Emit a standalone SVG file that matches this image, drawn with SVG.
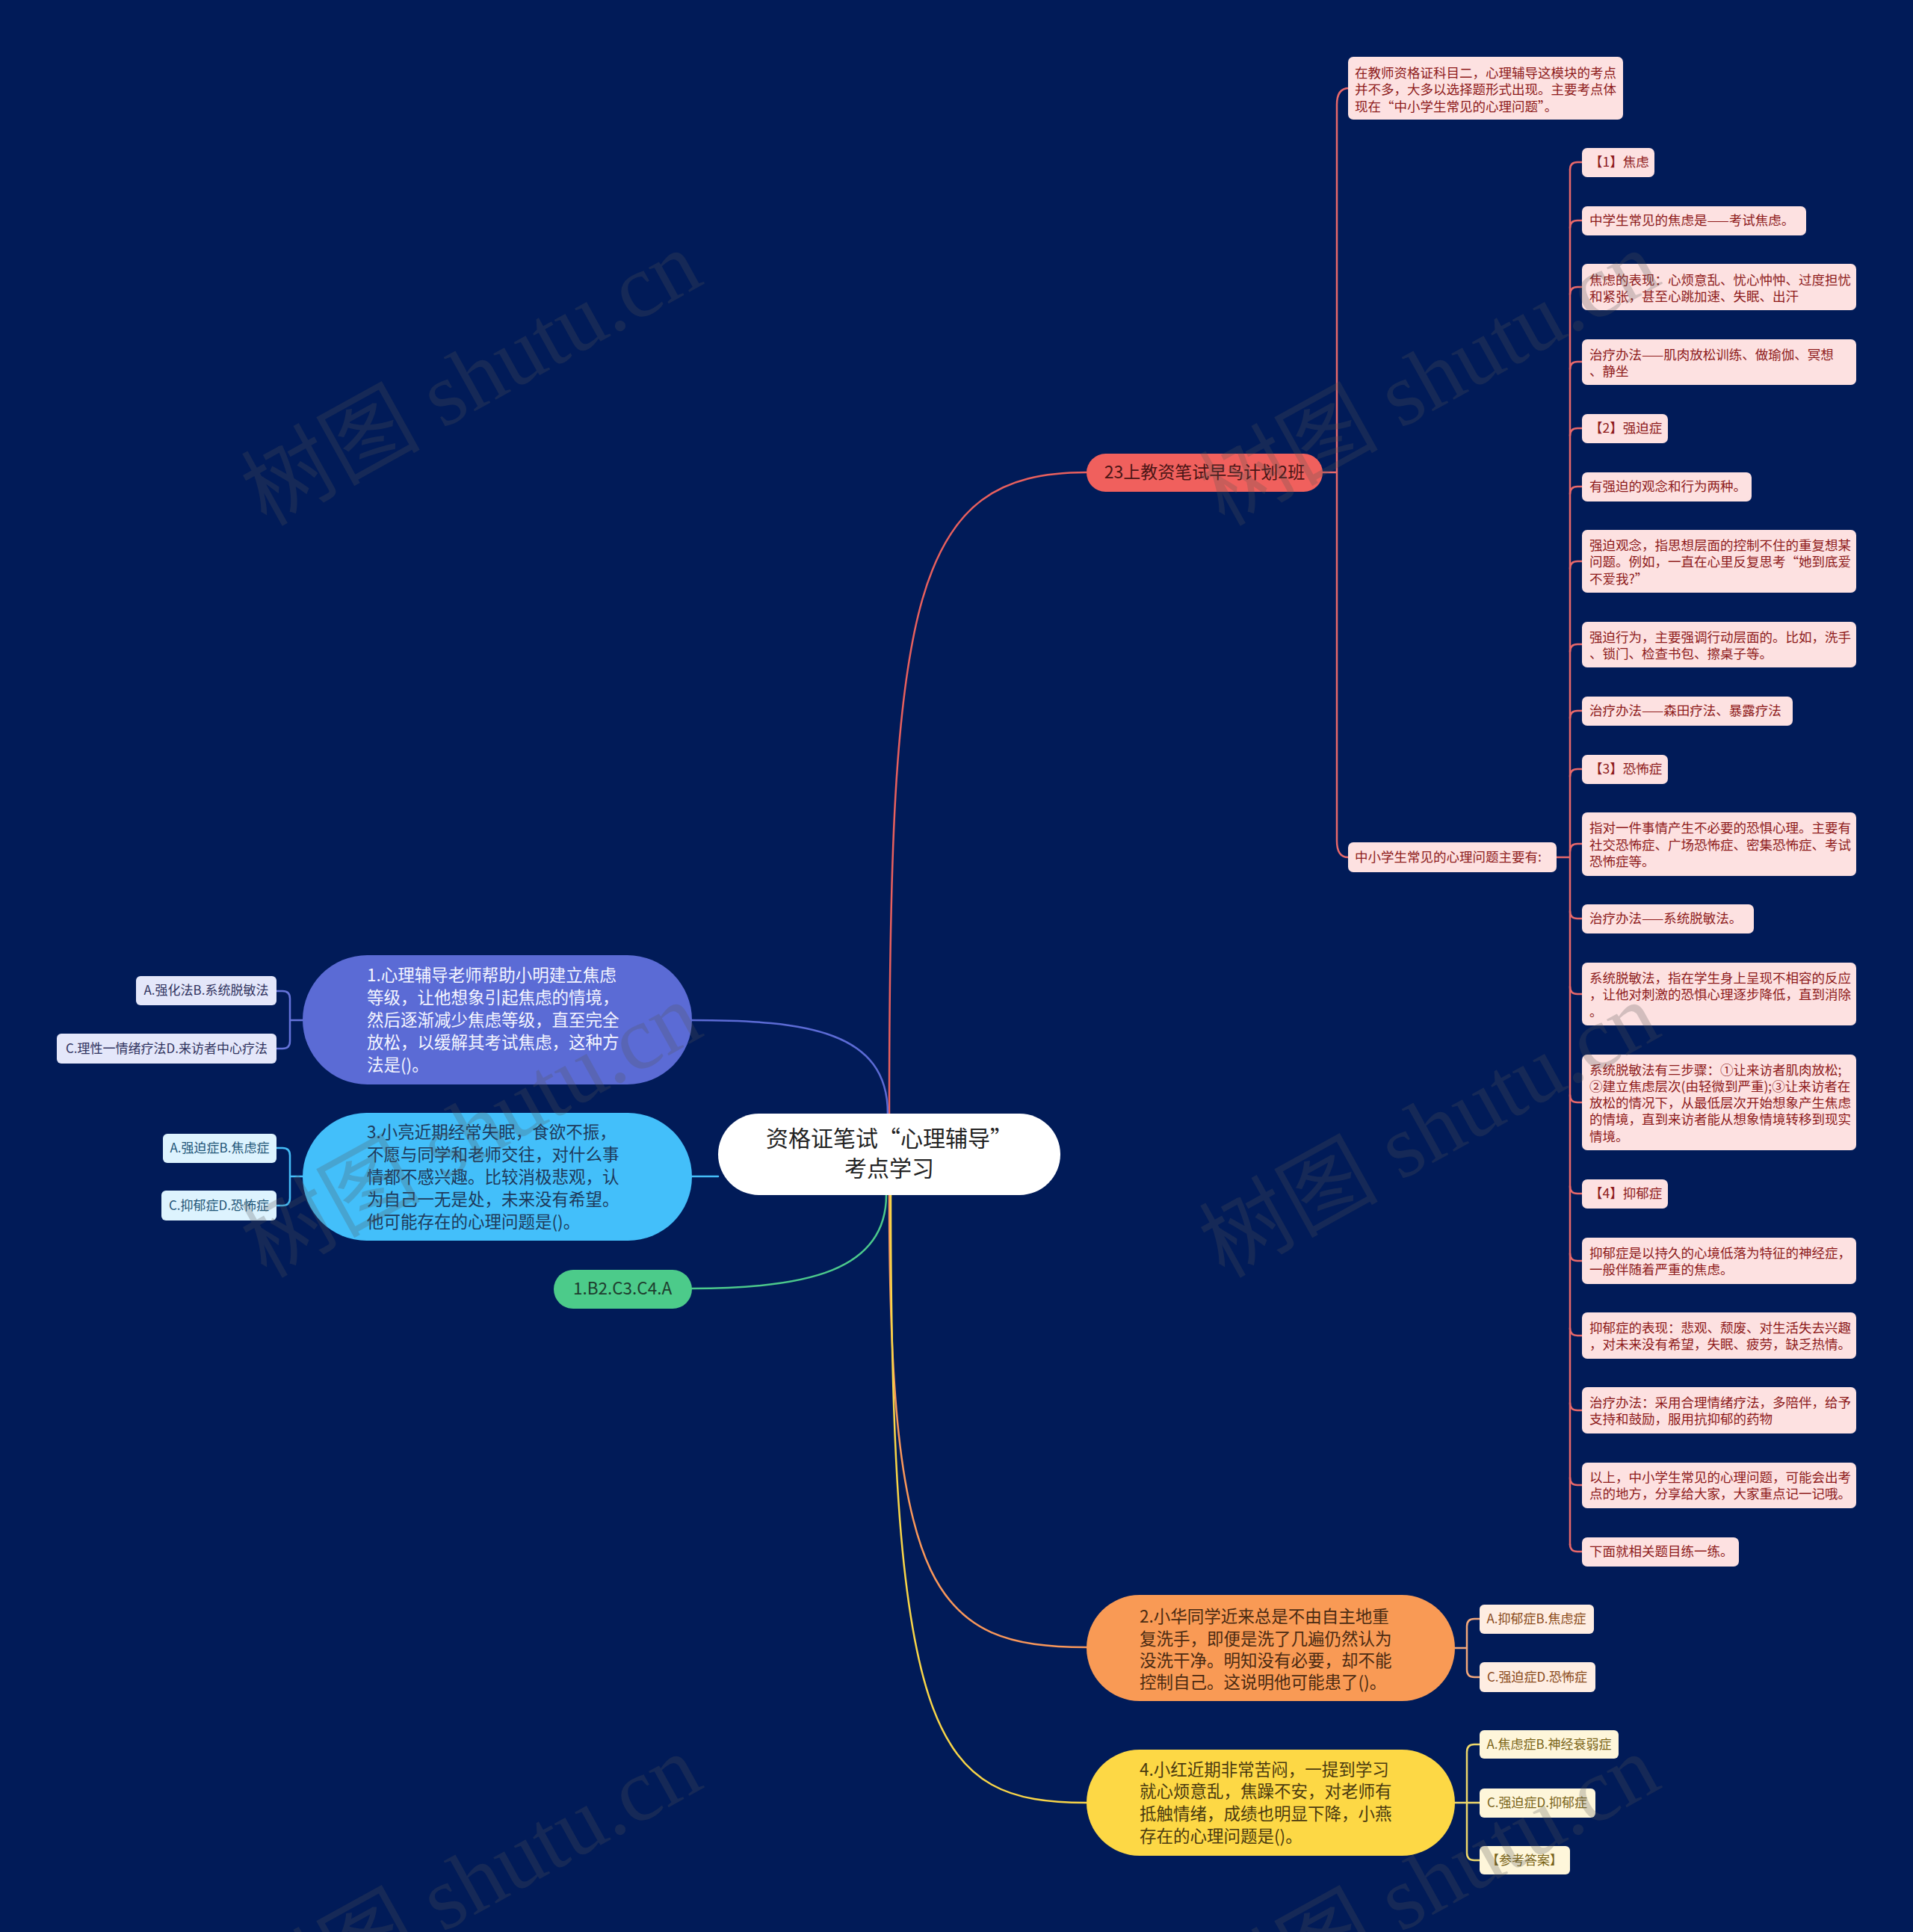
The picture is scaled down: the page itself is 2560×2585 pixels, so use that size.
<svg xmlns="http://www.w3.org/2000/svg" width="2560" height="2585" viewBox="0 0 2560 2585">
<style>
text{font-family:"Noto Sans CJK SC","Liberation Sans",sans-serif;}
.conn{fill:none;stroke-width:2.5;stroke-linecap:round;}
.pk{fill:#FDE1E1;}
.pkt{fill:#8E1B1B;font-size:17.5px;}
.wm{font-family:"Liberation Serif","Noto Sans CJK SC",serif;font-size:120px;fill:#555555;opacity:0.25;}
.big{font-size:22.5px;}
.opt{font-size:17px;}
</style>
<rect x="0" y="0" width="2560" height="2585" fill="#011B58"/>

<g id="connectors">
  <path class="conn" stroke="#E8605E" d="M1190,1490 C1190,800 1220,632 1454,632"/>
  <path class="conn" stroke="#5C6BD5" d="M1188,1490 C1188,1380 1080,1365 926,1365"/>
  <path class="conn" stroke="#45BDF7" d="M961,1574 H926"/>
  <path class="conn" stroke="#4CC98C" d="M1186,1599 C1186,1700 1080,1724 926,1724"/>
  <path class="conn" stroke="#F9975A" d="M1190,1599 C1190,2130 1250,2204 1454,2204"/>
  <path class="conn" stroke="#F8D548" d="M1192,1599 C1192,2330 1250,2412 1454,2412"/>
  <path class="conn" stroke="#E8686A" d="M1770,632 H1789 M1789,632 V140 Q1789,118 1805,118 M1789,632 V1125 Q1789,1147 1804,1147"/>
  <path class="conn" stroke="#E8686A" d="M2083,1147 H2101 M2101,227 V2067"/>
  <path class="conn" stroke="#E8686A" d="M2101,227 Q2101,217 2111,217 H2117 M2101,305 Q2101,295 2111,295 H2117 M2101,394 Q2101,384 2111,384 H2117 M2101,494 Q2101,484 2111,484 H2117 M2101,583 Q2101,573 2111,573 H2117 M2101,661 Q2101,651 2111,651 H2117 M2101,761 Q2101,751 2111,751 H2117 M2101,872 Q2101,862 2111,862 H2117 M2101,961 Q2101,951 2111,951 H2117 M2101,1039 Q2101,1029 2111,1029 H2117 M2101,1139 Q2101,1129 2111,1129 H2117"/>
  <path class="conn" stroke="#E8686A" d="M2101,1219 Q2101,1229 2111,1229 H2117 M2101,1320 Q2101,1330 2111,1330 H2117 M2101,1465 Q2101,1475 2111,1475 H2117 M2101,1587 Q2101,1597 2111,1597 H2117 M2101,1677 Q2101,1687 2111,1687 H2117 M2101,1777 Q2101,1787 2111,1787 H2117 M2101,1877 Q2101,1887 2111,1887 H2117 M2101,1977 Q2101,1987 2111,1987 H2117 M2101,2066 Q2101,2076 2111,2076 H2117"/>
  <path class="conn" stroke="#6573DA" d="M405,1365 H388 M388,1365 V1336 Q388,1326 378,1326 H370 M388,1365 V1393 Q388,1403 378,1403 H370"/>
  <path class="conn" stroke="#45BDF7" d="M405,1574 H388 M388,1574 V1546 Q388,1536 378,1536 H370 M388,1574 V1603 Q388,1613 378,1613 H370"/>
  <path class="conn" stroke="#F3A77A" d="M1947,2205 H1963 M1963,2205 V2176 Q1963,2166 1973,2166 H1980 M1963,2205 V2234 Q1963,2244 1973,2244 H1980"/>
  <path class="conn" stroke="#EED86A" d="M1947,2412 H1980 M1963,2412 V2344 Q1963,2334 1973,2334 H1980 M1963,2412 V2479 Q1963,2489 1973,2489 H1980"/>
</g>

<g id="center">
  <rect x="961" y="1490" width="458" height="109" rx="54.5" fill="#FFFFFF"/>
  <text x="1190" y="1534" text-anchor="middle" font-size="30" fill="#222222">资格证笔试“心理辅导”</text>
  <text x="1190" y="1574" text-anchor="middle" font-size="30" fill="#222222">考点学习</text>
</g>

<g id="node-23">
  <rect x="1454" y="607" width="316" height="51" rx="25.5" fill="#F0605D"/>
  <text x="1612" y="640" text-anchor="middle" font-size="23" fill="#4A1515">23上教资笔试早鸟计划2班</text>
</g>

<g id="note-intro">
  <rect x="1804" y="76" width="368" height="84" rx="7" class="pk"/>
  <text class="pkt"><tspan x="1813" y="104">在教师资格证科目二，心理辅导这模块的考点</tspan><tspan x="1813" y="126">并不多，大多以选择题形式出现。主要考点体</tspan><tspan x="1813" y="149">现在“中小学生常见的心理问题”。</tspan></text>
</g>

<g id="note-main">
  <rect x="1804" y="1127" width="279" height="40" rx="7" class="pk"/>
  <text class="pkt" x="1813" y="1153">中小学生常见的心理问题主要有:</text>
</g>

<g id="c1"><rect x="2117" y="198" width="97" height="39" rx="7" class="pk"/><text class="pkt" x="2127" y="223">【1】焦虑</text></g>
<g id="c2"><rect x="2117" y="276" width="300" height="39" rx="7" class="pk"/><text class="pkt" x="2127" y="301">中学生常见的焦虑是——考试焦虑。</text></g>
<g id="c3"><rect x="2117" y="353" width="367" height="62" rx="7" class="pk"/><text class="pkt"><tspan x="2127" y="381">焦虑的表现：心烦意乱、忧心忡忡、过度担忧</tspan><tspan x="2127" y="403">和紧张，甚至心跳加速、失眠、出汗</tspan></text></g>
<g id="c4"><rect x="2117" y="454" width="367" height="61" rx="7" class="pk"/><text class="pkt"><tspan x="2127" y="481">治疗办法——肌肉放松训练、做瑜伽、冥想</tspan><tspan x="2127" y="503">、静坐</tspan></text></g>
<g id="c5"><rect x="2117" y="554" width="115" height="39" rx="7" class="pk"/><text class="pkt" x="2127" y="579">【2】强迫症</text></g>
<g id="c6"><rect x="2117" y="632" width="227" height="39" rx="7" class="pk"/><text class="pkt" x="2127" y="657">有强迫的观念和行为两种。</text></g>
<g id="c7"><rect x="2117" y="709" width="367" height="84" rx="7" class="pk"/><text class="pkt"><tspan x="2127" y="736">强迫观念，指思想层面的控制不住的重复想某</tspan><tspan x="2127" y="758">问题。例如，一直在心里反复思考“她到底爱</tspan><tspan x="2127" y="781">不爱我?”</tspan></text></g>
<g id="c8"><rect x="2117" y="832" width="367" height="61" rx="7" class="pk"/><text class="pkt"><tspan x="2127" y="859">强迫行为，主要强调行动层面的。比如，洗手</tspan><tspan x="2127" y="881">、锁门、检查书包、擦桌子等。</tspan></text></g>
<g id="c9"><rect x="2117" y="932" width="282" height="39" rx="7" class="pk"/><text class="pkt" x="2127" y="957">治疗办法——森田疗法、暴露疗法</text></g>
<g id="c10"><rect x="2117" y="1010" width="115" height="39" rx="7" class="pk"/><text class="pkt" x="2127" y="1035">【3】恐怖症</text></g>
<g id="c11"><rect x="2117" y="1087" width="367" height="85" rx="7" class="pk"/><text class="pkt"><tspan x="2127" y="1114">指对一件事情产生不必要的恐惧心理。主要有</tspan><tspan x="2127" y="1137">社交恐怖症、广场恐怖症、密集恐怖症、考试</tspan><tspan x="2127" y="1159">恐怖症等。</tspan></text></g>
<g id="c12"><rect x="2117" y="1210" width="230" height="39" rx="7" class="pk"/><text class="pkt" x="2127" y="1235">治疗办法——系统脱敏法。</text></g>
<g id="c13"><rect x="2117" y="1288" width="367" height="84" rx="7" class="pk"/><text class="pkt"><tspan x="2127" y="1315">系统脱敏法，指在学生身上呈现不相容的反应</tspan><tspan x="2127" y="1337">，让他对刺激的恐惧心理逐步降低，直到消除</tspan><tspan x="2127" y="1360">。</tspan></text></g>
<g id="c14"><rect x="2117" y="1411" width="367" height="128" rx="7" class="pk"/><text class="pkt"><tspan x="2127" y="1438">系统脱敏法有三步骤：①让来访者肌肉放松;</tspan><tspan x="2127" y="1460">②建立焦虑层次(由轻微到严重);③让来访者在</tspan><tspan x="2127" y="1482">放松的情况下，从最低层次开始想象产生焦虑</tspan><tspan x="2127" y="1504">的情境，直到来访者能从想象情境转移到现实</tspan><tspan x="2127" y="1527">情境。</tspan></text></g>
<g id="c15"><rect x="2117" y="1578" width="115" height="39" rx="7" class="pk"/><text class="pkt" x="2127" y="1603">【4】抑郁症</text></g>
<g id="c16"><rect x="2117" y="1656" width="367" height="62" rx="7" class="pk"/><text class="pkt"><tspan x="2127" y="1683">抑郁症是以持久的心境低落为特征的神经症，</tspan><tspan x="2127" y="1705">一般伴随着严重的焦虑。</tspan></text></g>
<g id="c17"><rect x="2117" y="1756" width="367" height="62" rx="7" class="pk"/><text class="pkt"><tspan x="2127" y="1783">抑郁症的表现：悲观、颓废、对生活失去兴趣</tspan><tspan x="2127" y="1805">，对未来没有希望，失眠、疲劳，缺乏热情。</tspan></text></g>
<g id="c18"><rect x="2117" y="1856" width="367" height="62" rx="7" class="pk"/><text class="pkt"><tspan x="2127" y="1883">治疗办法：采用合理情绪疗法，多陪伴，给予</tspan><tspan x="2127" y="1905">支持和鼓励，服用抗抑郁的药物</tspan></text></g>
<g id="c19"><rect x="2117" y="1957" width="367" height="61" rx="7" class="pk"/><text class="pkt"><tspan x="2127" y="1983">以上，中小学生常见的心理问题，可能会出考</tspan><tspan x="2127" y="2005">点的地方，分享给大家，大家重点记一记哦。</tspan></text></g>
<g id="c20"><rect x="2117" y="2057" width="210" height="39" rx="7" class="pk"/><text class="pkt" x="2127" y="2082">下面就相关题目练一练。</text></g>

<g id="q1">
  <rect x="405" y="1278" width="521" height="173" rx="86.5" fill="#5B6BD5"/>
  <text class="big" fill="#F4F5FF"><tspan x="491" y="1313">1.心理辅导老师帮助小明建立焦虑</tspan><tspan x="491" y="1343">等级，让他想象引起焦虑的情境，</tspan><tspan x="491" y="1373">然后逐渐减少焦虑等级，直至完全</tspan><tspan x="491" y="1403">放松，以缓解其考试焦虑，这种方</tspan><tspan x="491" y="1433">法是()。</tspan></text>
</g>
<g id="q1a"><rect x="182" y="1306" width="188" height="39" rx="6" fill="#E4E7FA"/><text class="opt" x="276" y="1331" text-anchor="middle" fill="#30335E">A.强化法B.系统脱敏法</text></g>
<g id="q1b"><rect x="76" y="1383" width="294" height="40" rx="6" fill="#E4E7FA"/><text class="opt" x="223" y="1409" text-anchor="middle" fill="#30335E">C.理性一情绪疗法D.来访者中心疗法</text></g>

<g id="q3">
  <rect x="405" y="1489" width="521" height="171" rx="85.5" fill="#43BFFA"/>
  <text class="big" fill="#1E3A5A"><tspan x="491" y="1523">3.小亮近期经常失眠，食欲不振，</tspan><tspan x="491" y="1553">不愿与同学和老师交往，对什么事</tspan><tspan x="491" y="1583">情都不感兴趣。比较消极悲观，认</tspan><tspan x="491" y="1613">为自己一无是处，未来没有希望。</tspan><tspan x="491" y="1643">他可能存在的心理问题是()。</tspan></text>
</g>
<g id="q3a"><rect x="218" y="1517" width="152" height="39" rx="6" fill="#DDF3FE"/><text class="opt" x="294" y="1542" text-anchor="middle" fill="#1F5577">A.强迫症B.焦虑症</text></g>
<g id="q3b"><rect x="216" y="1593" width="154" height="40" rx="6" fill="#DDF3FE"/><text class="opt" x="293" y="1619" text-anchor="middle" fill="#1F5577">C.抑郁症D.恐怖症</text></g>

<g id="answer">
  <rect x="741" y="1699" width="185" height="52" rx="26" fill="#4CCB8A"/>
  <text class="big" x="833" y="1732" text-anchor="middle" fill="#1E3D2E">1.B2.C3.C4.A</text>
</g>

<g id="q2">
  <rect x="1454" y="2134" width="493" height="142" rx="71" fill="#F99A55"/>
  <text class="big" fill="#4A2A12"><tspan x="1525" y="2171">2.小华同学近来总是不由自主地重</tspan><tspan x="1525" y="2201">复洗手，即便是洗了几遍仍然认为</tspan><tspan x="1525" y="2230">没洗干净。明知没有必要，却不能</tspan><tspan x="1525" y="2259">控制自己。这说明他可能患了()。</tspan></text>
</g>
<g id="q2a"><rect x="1980" y="2147" width="153" height="39" rx="6" fill="#FEEDE2"/><text class="opt" x="2056" y="2172" text-anchor="middle" fill="#8A4A1A">A.抑郁症B.焦虑症</text></g>
<g id="q2b"><rect x="1980" y="2224" width="155" height="40" rx="6" fill="#FEEDE2"/><text class="opt" x="2057" y="2250" text-anchor="middle" fill="#8A4A1A">C.强迫症D.恐怖症</text></g>

<g id="q4">
  <rect x="1454" y="2341" width="493" height="142" rx="71" fill="#FDD845"/>
  <text class="big" fill="#4A3A10"><tspan x="1525" y="2376">4.小红近期非常苦闷，一提到学习</tspan><tspan x="1525" y="2405">就心烦意乱，焦躁不安，对老师有</tspan><tspan x="1525" y="2435">抵触情绪，成绩也明显下降，小燕</tspan><tspan x="1525" y="2465">存在的心理问题是()。</tspan></text>
</g>
<g id="q4a"><rect x="1980" y="2315" width="186" height="38" rx="6" fill="#FEF6DA"/><text class="opt" x="2073" y="2340" text-anchor="middle" fill="#7A6418">A.焦虑症B.神经衰弱症</text></g>
<g id="q4b"><rect x="1980" y="2393" width="155" height="39" rx="6" fill="#FEF6DA"/><text class="opt" x="2057" y="2418" text-anchor="middle" fill="#7A6418">C.强迫症D.抑郁症</text></g>
<g id="q4c"><rect x="1980" y="2470" width="121" height="38" rx="6" fill="#FEF6DA"/><text class="opt" x="2040" y="2495" text-anchor="middle" fill="#7A6418">【参考答案】</text></g>

<g id="watermarks">
  <text class="wm" text-anchor="middle" transform="translate(630,505) rotate(-29)" y="42">树图 shutu.cn</text>
  <text class="wm" text-anchor="middle" transform="translate(1912,505) rotate(-29)" y="42">树图 shutu.cn</text>
  <text class="wm" text-anchor="middle" transform="translate(630,1511) rotate(-29)" y="42">树图 shutu.cn</text>
  <text class="wm" text-anchor="middle" transform="translate(1912,1511) rotate(-29)" y="42">树图 shutu.cn</text>
  <text class="wm" text-anchor="middle" transform="translate(630,2517) rotate(-29)" y="42">树图 shutu.cn</text>
  <text class="wm" text-anchor="middle" transform="translate(1912,2517) rotate(-29)" y="42">树图 shutu.cn</text>
</g>
</svg>
